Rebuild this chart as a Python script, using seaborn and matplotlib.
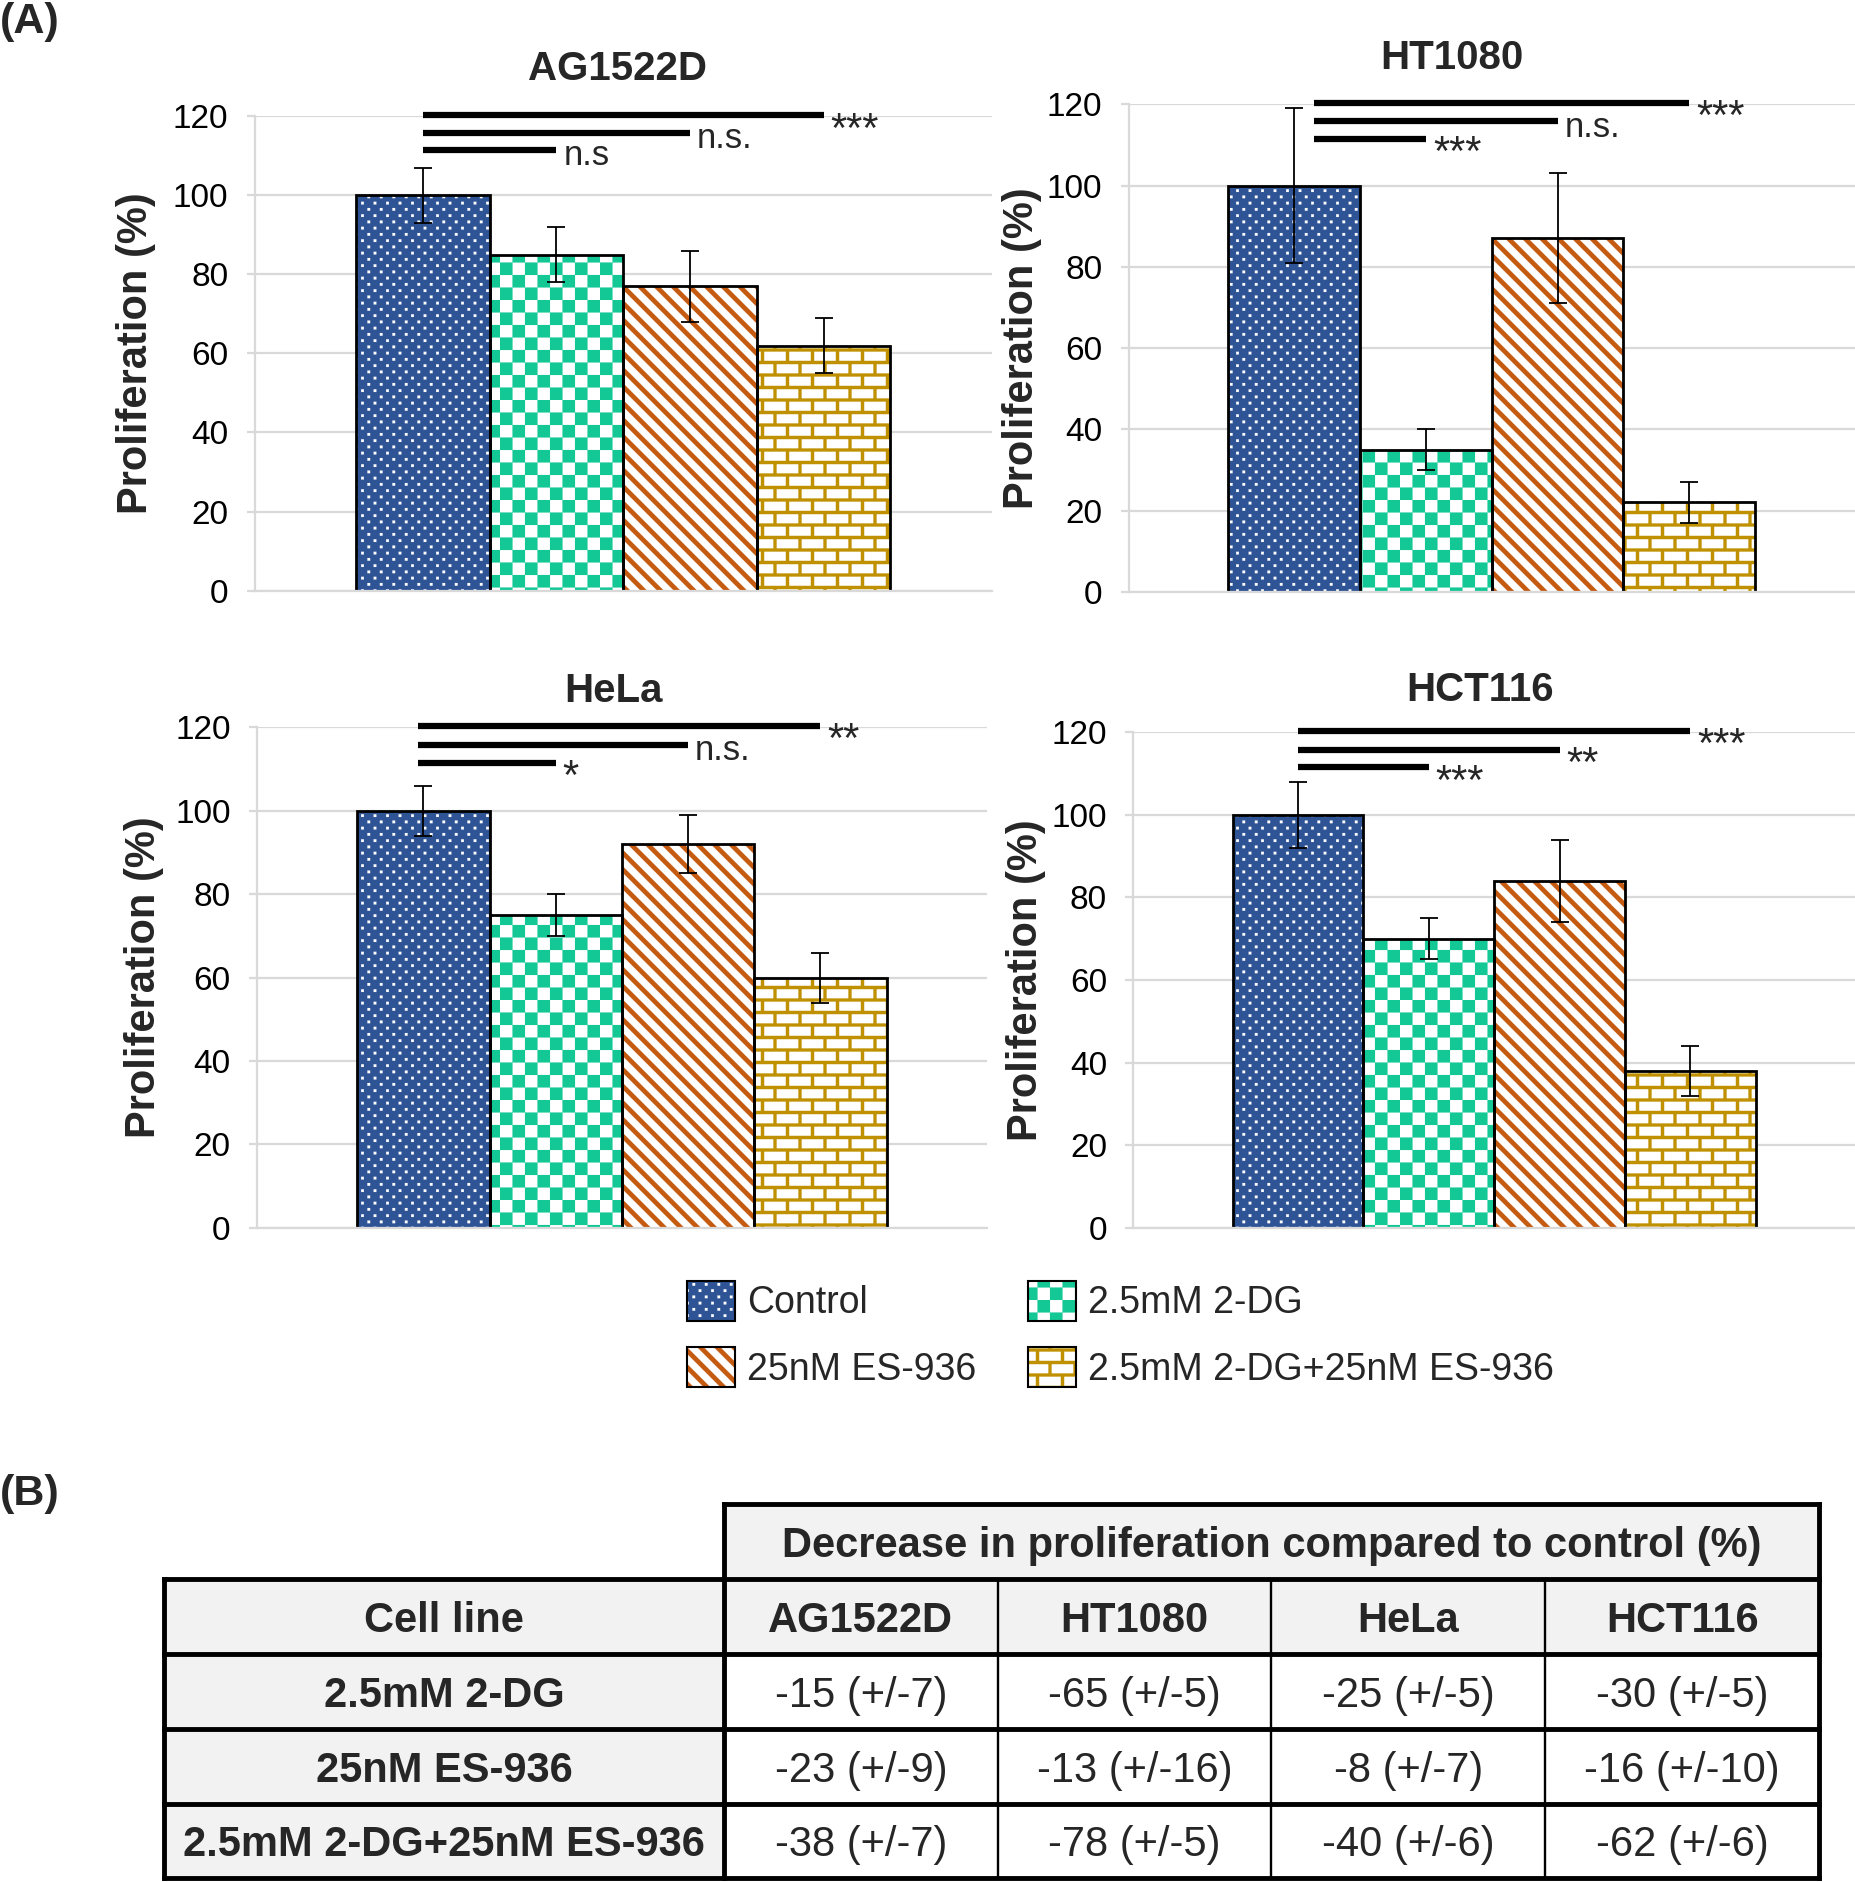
import numpy as np
import pandas as pd
import seaborn as sns
import matplotlib
matplotlib.use('Agg')
import matplotlib.pyplot as plt
import matplotlib.hatch as mhatch
from matplotlib.path import Path
from matplotlib.patches import Patch, Rectangle

# ---- data ----
cell_lines = ['AG1522D', 'HT1080', 'HeLa', 'HCT116']
treatments = ['Control', '2.5mM 2-DG', '25nM ES-936', '2.5mM 2-DG+25nM ES-936']

ag1522d_mean = [100, 85, 77, 62]
ag1522d_sd = [7, 7, 9, 7]
ht1080_mean = [100, 35, 87, 22]
ht1080_sd = [19, 5, 16, 5]
hela_mean = [100, 75, 92, 60]
hela_sd = [6, 5, 7, 6]
hct116_mean = [100, 70, 84, 38]
hct116_sd = [8, 5, 10, 6]

ag1522d_sig = ['n.s', 'n.s.', '***']
ht1080_sig = ['***', 'n.s.', '***']
hela_sig = ['*', 'n.s.', '**']
hct116_sig = ['***', '**', '***']

yticks = [0, 20, 40, 60, 80, 100, 120]
table_title = 'Decrease in proliferation compared to control (%)'
table_corner = 'Cell line'

means = [ag1522d_mean, ht1080_mean, hela_mean, hct116_mean]
sds = [ag1522d_sd, ht1080_sd, hela_sd, hct116_sd]
sigs = [ag1522d_sig, ht1080_sig, hela_sig, hct116_sig]

# ---- style ----
fill_colors = ['#2F5496', 'white', 'white', 'white']
pattern_colors = ['white', '#14C896', '#C55A11', '#BF9000']
hatches = ['.', 'x', '\\', '+']
grid_gray = '#D9D9D9'
cell_gray = '#F2F2F2'


# custom tiled patterns (Excel-like fills) via matplotlib's hatch machinery
def rect(x0, y0, x1, y1):
    return [(x0, y0), (x1, y0), (x1, y1), (x0, y1)]


class TileHatch(mhatch.HatchPatternBase):
    key = None

    def __init__(self, hatch, density):
        self.polys = self.shapes() if self.key in hatch else []
        self.num_vertices = 5 * len(self.polys)

    def set_vertices_and_codes(self, vertices, codes):
        for i, p in enumerate(self.polys):
            vertices[5 * i:5 * i + 4] = p
            vertices[5 * i + 4] = p[0]
            codes[5 * i] = Path.MOVETO
            codes[5 * i + 1:5 * i + 4] = Path.LINETO
            codes[5 * i + 4] = Path.CLOSEPOLY


class DotHatch(TileHatch):
    key = '.'

    def shapes(self):
        nc, nr, s = 8, 16, 0.027
        out = []
        for r in range(nr):
            y = (r + 0.5) / nr
            off = 0.5 / nc if r % 2 else 0.0
            for c in range(-1, nc + 1):
                x = (c + 0.5) / nc + off
                out.append(rect(x - s / 2, y - s / 2, x + s / 2, y + s / 2))
        return out


class CheckHatch(TileHatch):
    key = 'x'

    def shapes(self):
        n = 8
        return [rect(i / n, j / n, (i + 1) / n, (j + 1) / n)
                for i in range(n) for j in range(n) if (i + j) % 2 == 0]


class StripeHatch(TileHatch):
    key = '\\'

    def shapes(self):
        n, t = 6, 0.065
        out = []
        for k in range(-1, 2 * n + 2):
            c = k / n
            out.append([(-0.5, c + 0.5), (1.5, c - 1.5),
                        (1.5, c - 1.5 + t), (-0.5, c + 0.5 + t)])
        return out


class BrickHatch(TileHatch):
    key = '+'

    def shapes(self):
        nr, nc, m = 8, 4, 0.032
        out = [rect(-0.1, r / nr - m / 2, 1.1, r / nr + m / 2) for r in range(nr + 1)]
        for r in range(nr):
            for j in range(-1, nc + 1):
                x = (j + 0.5 * (r % 2)) / nc
                out.append(rect(x - m / 2, r / nr + m / 2, x + m / 2, (r + 1) / nr - m / 2))
        return out


mhatch._hatch_types[:] = [DotHatch, CheckHatch, StripeHatch, BrickHatch]

sns.set_theme(style='white')
plt.rcParams['font.family'] = ['Liberation Sans', 'DejaVu Sans']
plt.rcParams['hatch.linewidth'] = 0.1

W, H = 1545.0, 1568.0   # layout measured on the reference (scaled)


def box(left, right, top, bottom):
    return [left / W, 1 - bottom / H, (right - left) / W, (bottom - top) / H]


fig = plt.figure(figsize=(18.55, 18.82), dpi=100)

panel_boxes = [(212, 826, 97, 492), (940, 1545, 87, 493),
               (214, 822, 606, 1023), (944, 1545, 610, 1023)]
title_pos = [(0.493, 1.099), (0.445, 1.096), (0.488, 1.072), (0.481, 1.085)]
ylabel_x = [-0.134, -0.119, -0.127, -0.121]
bracket_shift = [0.0, 0.027, -0.008, 0.0]
bracket_y = [111.5, 115.8, 120.3]

for p, name in enumerate(cell_lines):
    ax = fig.add_axes(box(*panel_boxes[p]))
    df = pd.DataFrame({'cell': name, 'treatment': treatments, 'value': means[p]})
    sns.barplot(data=df, x='cell', y='value', hue='treatment', hue_order=treatments,
                palette=fill_colors, saturation=1, width=0.725, errorbar=None,
                legend=False, ax=ax)

    bars = [bar for cont in list(ax.containers) for bar in cont]
    centers = []
    for i, bar in enumerate(bars):
        bar.set_hatch(hatches[i])
        bar.set_edgecolor(pattern_colors[i])
        bar.set_linewidth(0)
        ax.add_patch(Rectangle(bar.get_xy(), bar.get_width(), bar.get_height(),
                               fill=False, edgecolor='black', lw=2, zorder=2.5))
        cx = bar.get_x() + bar.get_width() / 2
        centers.append(cx)
        ax.errorbar(cx, bar.get_height(), yerr=sds[p][i], fmt='none', ecolor='black',
                    elinewidth=1.3, capsize=6.5, capthick=1.3, zorder=3)

    # significance bars
    x0 = centers[0] + bracket_shift[p]
    for k, lab in enumerate(sigs[p]):
        y = bracket_y[k]
        x1 = centers[k + 1]
        ax.plot([x0, x1], [y, y], color='black', lw=4.5, solid_capstyle='butt',
                clip_on=False, zorder=4)
        star = lab.startswith('*')
        ax.annotate(lab, (x1, y), xytext=(5, -11 if star else -4),
                    textcoords='offset points', ha='left', va='center',
                    fontsize=30 if star else 25, annotation_clip=False)

    ax.set_ylim(0, 120)
    ax.set_xlim(-0.5, 0.5)
    ax.set_yticks(yticks)
    ax.yaxis.grid(True, color=grid_gray, lw=1.6)
    ax.set_axisbelow(True)
    for s in ['top', 'right']:
        ax.spines[s].set_visible(False)
    for s in ['left', 'bottom']:
        ax.spines[s].set_color(grid_gray)
        ax.spines[s].set_linewidth(1.6)
    ax.tick_params(axis='y', left=True, length=6, width=1.6, color=grid_gray,
                   pad=13, labelsize=24, labelcolor='black')
    ax.tick_params(axis='x', bottom=False, labelbottom=False)
    ax.set_xlabel('')
    ax.set_ylabel('Proliferation (%)', fontsize=30, fontweight='bold')
    ax.yaxis.set_label_coords(ylabel_x[p], 0.5)
    ax.text(title_pos[p][0], title_pos[p][1], name, transform=ax.transAxes,
            ha='center', va='center', fontsize=29, fontweight='bold')

# legend
handles = [(Patch(facecolor=fill_colors[i], edgecolor=pattern_colors[i], hatch=hatches[i], lw=0),
            Patch(facecolor='none', edgecolor='black', lw=1.5)) for i in range(4)]
order = [0, 2, 1, 3]
fig.legend([handles[i] for i in order], [treatments[i] for i in order], ncol=2,
           loc='upper left', bbox_to_anchor=(572 / W, 1 - 1067 / H), frameon=False,
           fontsize=27, handlelength=1.28, handleheight=1.28, handletextpad=0.32,
           columnspacing=1.38, labelspacing=0.68, borderpad=0, borderaxespad=0)

fig.text(0.0, 1 - 18 / H, '(A)', fontsize=31, fontweight='bold', ha='left', va='center')
fig.text(0.0, 1 - 1245 / H, '(B)', fontsize=31, fontweight='bold', ha='left', va='center')

# ---- table (B) ----
tax = fig.add_axes(box(137, 1515, 1253, 1565))
col_w = [466, 228, 228, 228, 228]
edges = np.concatenate([[0], np.cumsum(col_w)])
n_rows = 2 + len(treatments) - 1
tax.set_xlim(0, edges[-1])
tax.set_ylim(n_rows, 0)
tax.axis('off')

tax.add_patch(Rectangle((edges[1], 0), edges[-1] - edges[1], 1, facecolor=cell_gray, lw=0))
tax.add_patch(Rectangle((0, 1), edges[-1], 1, facecolor=cell_gray, lw=0))
tax.add_patch(Rectangle((0, 2), edges[1], n_rows - 2, facecolor=cell_gray, lw=0))

fs = 30
dy = 0.06
tax.text((edges[1] + edges[-1]) / 2, 0.5 + dy, table_title, ha='center', va='center',
         fontsize=fs, fontweight='bold')
tax.text(edges[1] / 2, 1.5 + dy, table_corner, ha='center', va='center', fontsize=fs,
         fontweight='bold')
for j, name in enumerate(cell_lines):
    tax.text((edges[j + 1] + edges[j + 2]) / 2, 1.5 + dy, name, ha='center', va='center',
             fontsize=fs, fontweight='bold')
for r, tr in enumerate(treatments[1:]):
    yc = 2.5 + r + dy
    tax.text(edges[1] / 2, yc, tr, ha='center', va='center', fontsize=fs, fontweight='bold')
    for j in range(len(cell_lines)):
        txt = f'{means[j][r + 1] - 100} (+/-{sds[j][r + 1]})'
        tax.text((edges[j + 1] + edges[j + 2]) / 2, yc, txt, ha='center', va='center',
                 fontsize=fs)

thick, thin = 3.5, 1.7
kw = dict(color='black', solid_capstyle='projecting', clip_on=False)
tax.plot([edges[1], edges[-1]], [0, 0], lw=thick, **kw)
for r in range(1, n_rows + 1):
    tax.plot([0, edges[-1]], [r, r], lw=thick, **kw)
tax.plot([edges[1], edges[1]], [0, n_rows], lw=thick, **kw)
tax.plot([edges[-1], edges[-1]], [0, n_rows], lw=thick, **kw)
tax.plot([0, 0], [1, n_rows], lw=thick, **kw)
for x in edges[2:-1]:
    tax.plot([x, x], [1, n_rows], lw=thin, **kw)

fig.savefig('out.png', dpi=100)
